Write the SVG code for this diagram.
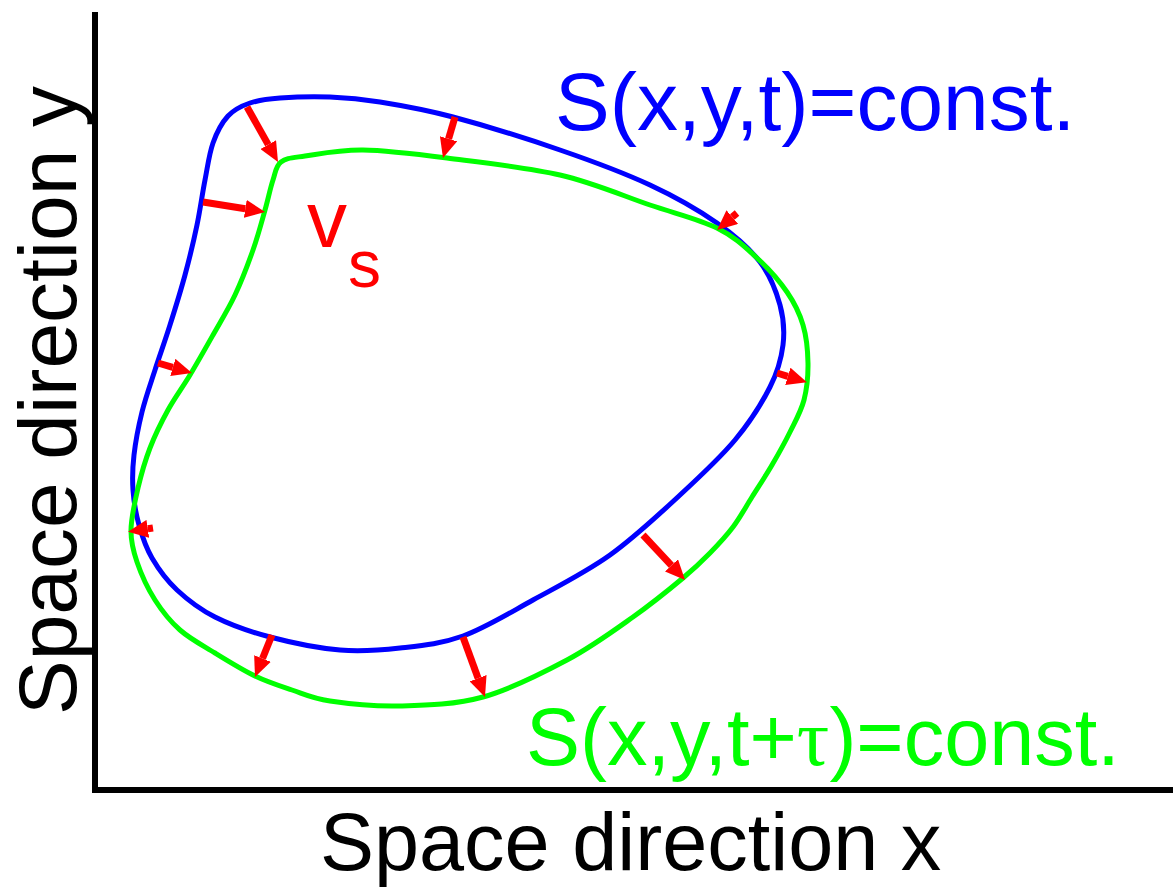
<svg xmlns="http://www.w3.org/2000/svg" width="1173" height="891" viewBox="0 0 1173 891">
<style>
.lbl{font-family:"Liberation Sans",Arial,sans-serif;}
.curve{fill:none;stroke-width:5;stroke-linejoin:round;}
.arr{stroke:#ff0000;stroke-width:7;fill:none;marker-end:url(#ah);}
.axis{stroke:#000;stroke-width:6;fill:none;stroke-linecap:square;}
</style>
<defs>
<marker id="ah" markerUnits="userSpaceOnUse" markerWidth="20" markerHeight="18" refX="0" refY="9" orient="auto">
<path d="M0,0 L20,9 L0,18 z" fill="#ff0000"/>
</marker>
</defs>
<rect width="1173" height="891" fill="#fff"/>
<g id="axes">
<path class="axis" d="M95,15 L95,790 L1173,790"/>
</g>
<g id="axis-labels">
<text class="lbl" x="320" y="870" font-size="81" fill="#000">Space direction x</text>
<text class="lbl" transform="translate(76,715) rotate(-90)" font-size="82" fill="#000">Space direction y</text>
</g>
<g id="front-t">
<path class="curve" stroke="#0000ff" d="M250,103 C258.7,100 266.7,99 280,98 C293.3,97 313.3,96.3 330,97 C346.7,97.7 359.5,98.7 380,102 C400.5,105.3 423,109 453,117 C483,125 527.2,138.7 560,150 C592.8,161.3 623.8,172.8 650,185 C676.2,197.2 698.7,210.2 717,223 C735.3,235.8 749.5,248.3 760,262 C770.5,275.7 776.2,291.2 780,305 C783.8,318.8 784.7,331.3 783,345 C781.3,358.7 778,371.2 770,387 C762,402.8 750,422 735,440 C720,458 700.8,475.8 680,495 C659.2,514.2 634.5,537.5 610,555 C585.5,572.5 557.5,586.5 533,600 C508.5,613.5 485.2,628 463,636 C440.8,644 420.5,645.7 400,648 C379.5,650.3 361.7,651.8 340,650 C318.3,648.2 290.8,642.5 270,637 C249.2,631.5 230.5,624.8 215,617 C199.5,609.2 187.5,599.8 177,590 C166.5,580.2 158.3,568.8 152,558 C145.7,547.2 142.2,536.3 139,525 C135.8,513.7 133.8,501.7 133,490 C132.2,478.3 132.5,468 134,455 C135.5,442 138.5,426.2 142,412 C145.5,397.8 150.3,384.5 155,370 C159.7,355.5 165,340.8 170,325 C175,309.2 180.5,291.7 185,275 C189.5,258.3 193.7,240.8 197,225 C200.3,209.2 202.3,193.7 205,180 C207.7,166.3 209.2,153.7 213,143 C216.8,132.3 221.8,122.7 228,116 C234.2,109.3 241.3,106 250,103 Z"/>
<text class="lbl" x="555" y="130" font-size="82" fill="#0000ff">S(x,y,t)=const.</text>
</g>
<g id="front-t-tau">
<path class="curve" stroke="#00ff00" d="M281,162 C286.3,158 291.3,158 305,156 C318.7,154 339.3,149.7 363,150 C386.7,150.3 414.2,153.8 447,158 C479.8,162.2 526.2,167.2 560,175 C593.8,182.8 623.8,196.2 650,205 C676.2,213.8 699.2,219.2 717,228 C734.8,236.8 745.3,247.3 757,258 C768.7,268.7 779.3,280.8 787,292 C794.7,303.2 799.5,313.2 803,325 C806.5,336.8 807.8,350.5 808,363 C808.2,375.5 807,388.5 804,400 C801,411.5 795.3,421.2 790,432 C784.7,442.8 778.3,454.2 772,465 C765.7,475.8 758.5,486.7 752,497 C745.5,507.3 740,517.7 733,527 C726,536.3 718.3,544.5 710,553 C701.7,561.5 695.8,567.3 683,578 C670.2,588.7 652.3,603.3 633,617 C613.7,630.7 592,646.7 567,660 C542,673.3 510.8,689.3 483,697 C455.2,704.7 425.5,705.3 400,706 C374.5,706.7 348,703.7 330,701 C312,698.3 304.5,694.2 292,690 C279.5,685.8 267.8,682.2 255,676 C242.2,669.8 227.5,660.7 215,653 C202.5,645.3 190,638.8 180,630 C170,621.2 162.2,611.3 155,600 C147.8,588.7 141,573.7 137,562 C133,550.3 130.8,542.3 131,530 C131.2,517.7 134.8,501.7 138,488 C141.2,474.3 145,461 150,448 C155,435 161.3,422.2 168,410 C174.7,397.8 182.5,387.5 190,375 C197.5,362.5 205.5,348.3 213,335 C220.5,321.7 228.3,309.2 235,295 C241.7,280.8 248,264.2 253,250 C258,235.8 261.7,221.7 265,210 C268.3,198.3 270.3,188 273,180 C275.7,172 275.7,166 281,162 Z"/>
<text class="lbl" x="526" y="765" font-size="81" fill="#00ff00">S(x,y,t+<tspan font-family="'Liberation Serif','DejaVu Serif',serif">τ</tspan>)=const.</text>
</g>
<g id="connectors">
<line class="arr" x1="247" y1="107" x2="268.2" y2="144.6"/>
<line class="arr" x1="455" y1="117" x2="448.6" y2="138.8"/>
<line class="arr" x1="203" y1="202" x2="245.3" y2="208.8"/>
<line class="arr" x1="158" y1="363" x2="172.8" y2="367.4"/>
<line class="arr" x1="737" y1="213" x2="732.3" y2="217"/>
<line class="arr" x1="777" y1="373" x2="787.8" y2="376.3"/>
<line class="arr" x1="153" y1="528" x2="147.8" y2="528.8"/>
<line class="arr" x1="272" y1="635" x2="262.5" y2="658.5"/>
<line class="arr" x1="463" y1="637" x2="478.1" y2="678.2"/>
<line class="arr" x1="643" y1="535" x2="671.4" y2="565.4"/>
</g>
<g id="velocity-label">
<text class="lbl" x="307" y="247" font-size="80" fill="#ff0000">v<tspan x="348" y="287" font-size="66">s</tspan></text>
</g>
</svg>
